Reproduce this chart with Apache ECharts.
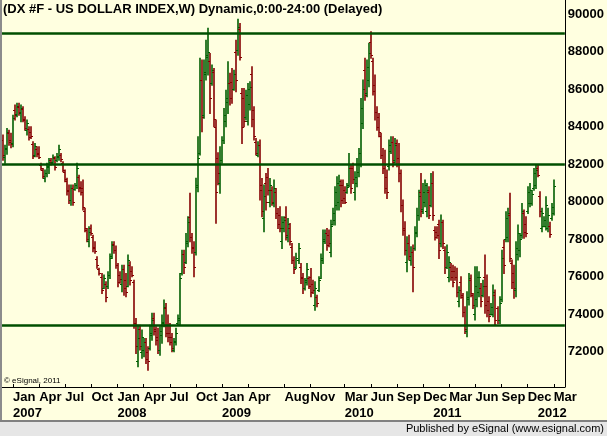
<!DOCTYPE html>
<html><head><meta charset="utf-8">
<script src="https://cdn.jsdelivr.net/npm/echarts@6/dist/echarts.min.js"></script>
<style>html,body{margin:0;padding:0;background:#FFFFE0;overflow:hidden}#c{width:607px;height:436px}</style>
</head><body><div id="c"></div><script>
// ---- data (weekly bars of DX #F, values as shown on the price scale) ----
const firstWeek = '2006-12-01';
const weekSlots = 280;
const weekOpen = [
83300,82400,82800,83650,83300,83100,84900,84650,85050,84750,
84950,84350,83800,83850,83700,83050,82500,82800,82600,81950,
81700,81250,81500,81850,82200,82100,82300,82200,82400,82500,
82050,81600,81100,80600,80100,80700,80650,80900,81300,80800,
80700,79500,78500,77900,78600,78100,77600,76950,76400,76000,
75400,75600,75500,76100,77100,77750,77400,76600,76100,75600,
76400,75800,75500,76600,76300,75700,73500,71500,73200,72000,
72100,72500,72000,72200,72900,73800,73200,72800,72100,72900,
73500,74300,73400,73000,72800,72100,72500,73500,73700,76200,
77200,76800,77800,79200,78100,77600,77300,80900,82600,86500,
84600,86800,87700,87500,86300,86900,84000,82300,81000,82200,
83300,84300,85300,86300,86400,86000,88000,88100,89200,85800,
85500,84500,84300,85200,86800,84900,83200,82500,83000,80900,
79100,81000,81300,80000,80600,79900,80500,79400,79300,77900,
78600,79200,78100,78600,77600,76900,76500,76900,76500,76000,
75400,75700,75900,76000,75600,74500,74900,75300,75900,76900,
77900,78300,78200,77300,78800,79000,79800,80000,80900,80900,
80600,80500,80900,81800,81800,80500,81000,81600,82000,84200,
87000,85800,86500,88500,87500,86200,84800,84500,83500,82500,
82000,81300,81900,82700,83200,82200,83100,82300,81500,79800,
78500,76800,77800,76900,77300,77500,78300,79300,80500,79600,
80000,79500,80500,79800,81000,78500,78400,78800,77800,78900,
77400,76500,76000,76500,76300,76300,76000,74700,75700,74900,
74100,73100,74800,75800,75000,74000,74800,75200,75400,75000,
76000,75500,74700,74000,74000,75000,74300,73700,74800,77600,
78000,78100,79300,76700,76200,75300,77200,77400,78200,79400,
78800,79500,79900,79900,80700,80900,81800,80300,78600,78700,
78700,78600,78700,79100,79400];
const weekHigh = [
83550,83010,83900,83810,83640,84610,85150,85240,85240,85150,
85060,84520,84350,83990,83990,83190,83100,82920,82920,82040,
81770,81680,82040,82300,82300,82480,82390,82570,83010,82570,
82120,81680,81240,80880,80880,80880,80970,82040,81410,81060,
81150,79640,78570,78660,78750,78210,77860,77060,76440,76170,
76080,75720,76260,77200,77860,77860,77630,76700,76260,76610,
76610,76170,77150,76790,76520,75810,73770,73410,73410,73150,
72700,72700,72260,73410,74040,74040,73320,73240,73320,73950,
74750,74570,73950,73500,72970,72700,73240,73950,76170,77410,
77410,78300,79190,80440,78300,77860,81240,83460,87640,87550,
87550,88610,89240,87900,87280,87100,84350,82600,82920,83460,
84970,85940,87460,86840,87100,87010,88610,89720,89500,86030,
86030,85940,86300,86390,87190,85060,83370,83190,83280,81230,
80880,81500,81770,81230,80790,81150,80700,79630,79720,79190,
79190,79720,79100,78830,77770,77060,77240,77770,76700,76170,
75900,76700,75990,76430,75810,75720,75010,75990,77200,78480,
78480,78570,78480,79010,79640,80790,81320,81410,81150,81150,
80790,80970,82570,81950,82040,81590,82300,82830,85500,86480,
87640,87550,88440,89060,87640,86750,85060,84700,83640,82830,
82740,81680,83280,83460,83460,83370,83280,83100,81680,80080,
78920,78120,78210,77590,77680,78660,79640,80610,81500,80970,
81150,80970,80790,81500,81590,78660,78660,79010,79280,79010,
77590,77680,77060,76700,76610,76520,76440,75460,75990,75100,
74390,75190,76170,76080,75100,76520,76520,76260,75630,75810,
77150,76080,74920,74570,75550,75280,74390,74920,77410,77950,
79460,79640,80440,76880,76610,77860,78750,78300,79900,79550,
79190,80790,80970,80610,81770,81950,81950,80520,79640,79190,
80260,79640,78900,79900,81150];
const weekLow = [
82210,82040,82520,83010,82870,82920,84350,84520,84610,84260,
84260,83810,83550,83280,83370,82300,82390,82390,82300,81680,
81240,81060,81320,81500,81950,82040,81680,82120,82210,82120,
81590,81060,80350,79900,79810,79810,80610,80700,80520,80350,
79550,78390,77860,77590,78210,77320,77240,76440,76080,75100,
75370,74660,75370,75900,76970,77240,76440,75460,75640,75190,
75010,74920,75460,75550,75990,73240,71900,71190,72080,71640,
71720,71370,71010,72080,72610,72880,72350,71900,71810,72440,
73320,72790,72520,72350,71990,71990,72350,73410,73410,76080,
76170,76700,77590,77860,77240,75990,77150,80520,82480,83720,
84440,86480,86750,84700,86210,83990,78840,80900,80440,82040,
83100,83990,84700,85150,85240,85940,85860,87810,87550,83100,
83990,84350,84080,84880,83990,83280,82480,82390,80080,79190,
78390,79550,80350,79720,79810,79720,79100,78570,78390,77500,
78390,77950,77860,77680,76700,76170,76430,76700,75630,75100,
75280,75550,75370,74920,75100,74210,74390,75200,75900,76700,
77770,77410,77590,77060,78750,78750,79550,79550,79720,79900,
79900,80440,80790,80440,80970,80080,80790,81320,81860,83900,
85410,85590,86120,87640,85680,84350,83810,83460,82300,81500,
80440,80170,81680,82570,81860,82040,81860,81060,79460,78210,
77150,76260,76880,76610,75190,77410,78120,79010,79190,79370,
79720,79190,79100,79720,79010,77950,78040,76970,77590,77500,
76170,76430,75720,75810,75460,75810,74920,74390,74840,73860,
72970,72790,74480,74920,74300,73680,74390,74920,74390,74920,
74040,73860,73590,73950,73860,73410,73500,73500,74660,76170,
77860,77860,76790,75370,74840,74920,76880,77060,78040,78040,
78120,79370,79730,79810,80610,80700,81320,79190,78390,78660,
78480,78390,78100,79010,79280];
const weekClose = [
82500,82850,83700,83200,83050,84450,84600,85100,84800,85000,
84400,83950,84200,83450,83500,82450,82950,82550,82400,81800,
81350,81550,81900,82100,82050,82350,81850,82450,82800,82250,
81700,81200,80550,80100,80700,80000,80900,81800,80700,80500,
79700,78600,78000,78400,78300,77500,77350,76600,76200,75300,
75900,74900,76100,77000,77700,77400,76600,75700,75850,76400,
75400,75200,76900,75800,76100,73500,72300,72700,72300,72800,
72500,71600,71500,73000,73700,73100,72600,72100,73100,73600,
74400,73000,72800,72500,72200,72550,73000,73800,75900,77200,
76500,77900,78900,78100,77500,76500,80800,82300,86500,84500,
86900,87800,88000,85500,87000,84400,80500,81500,82200,83300,
84600,85500,86300,85500,86000,86800,86500,89300,87700,84000,
84300,85700,86000,86100,84400,83500,82600,83000,80600,79500,
80300,80000,80600,80900,80000,80700,79400,78800,78600,78900,
79000,78200,78800,77900,76900,76400,77000,77500,75900,75400,
75800,76400,75500,75200,75300,75400,74600,75800,77000,78000,
78300,77700,77800,78700,79400,80500,81000,81100,80100,80200,
80000,80800,82000,80700,81200,81300,82000,82600,85000,86000,
85700,87200,87900,87800,85900,84800,84000,83700,82500,81800,
80700,80500,83000,83200,82100,83000,82000,81500,79800,78600,
77400,77800,77100,77300,76500,78400,79300,80300,79500,80500,
80900,80600,79300,81000,79300,78100,78200,77400,78900,77800,
76500,77300,76800,76000,75700,76000,75200,75300,75000,74100,
73200,74900,75900,75100,74500,75500,76000,76000,74700,75500,
74500,74200,73900,74400,75200,73700,73700,74600,77000,76600,
79100,79400,77000,75700,75400,77500,78300,78000,79500,78400,
78300,80500,80600,80400,81500,81700,81400,79500,79400,79000,
79800,79300,78250,79700,80845];
const levelLines = [89000, 82000, 73400];
const priceTicks = [72000, 74000, 76000, 78000, 80000, 82000, 84000, 86000, 88000, 90000];
const monthTickMonths = ['2007-01','2007-04','2007-07','2007-10','2008-01','2008-04','2008-07','2008-10',
  '2009-01','2009-04','2009-08','2009-11','2010-03','2010-06','2010-09','2010-12',
  '2011-03','2011-06','2011-09','2011-12','2012-03'];
const monthTickLabels = ['Jan','Apr','Jul','Oct','Jan','Apr','Jul','Oct','Jan','Apr','Aug','Nov',
  'Mar','Jun','Sep','Dec','Mar','Jun','Sep','Dec','Mar'];
const yearTickMonths = ['2007-01','2008-01','2009-01','2010-03','2011-01','2012-01'];
const yearTickLabels = ['2007','2008','2009','2010','2011','2012'];
const titleText = '(DX #F - US DOLLAR INDEX,W) Dynamic,0:00-24:00 (Delayed)';

// ---- build categories (week-ending dates) ----
const weeks = [];
const t0 = Date.parse(firstWeek + 'T00:00:00Z');
for (let i = 0; i < weekSlots; i++) weeks.push(new Date(t0 + i * 7 * 86400000).toISOString().slice(0, 10));
function firstIndexMap(months, labels) {
  const m = new Map();
  months.forEach((mo, k) => { const idx = weeks.findIndex(w => w.startsWith(mo)); if (idx >= 0) m.set(idx, labels[k]); });
  return m;
}
const monthIdx = firstIndexMap(monthTickMonths, monthTickLabels);
const yearIdx = firstIndexMap(yearTickMonths, yearTickLabels);
const ohlc = weekOpen.map((o, i) => [i, o, weekHigh[i], weekLow[i], weekClose[i]]);
const lastClose = weekClose[weekClose.length - 1];

const FONT = '"Liberation Sans", Arial, sans-serif';
const GREEN = '#005E00', RED = '#850000', LINECOL = '#004F00';

const chart = echarts.init(document.getElementById('c'), null, {renderer: 'canvas'});
chart.setOption({
  animation: false,
  backgroundColor: '#FFFFE0',
  title: {text: titleText, left: 3, top: 3, padding: 0,
    textStyle: {fontFamily: FONT, fontWeight: 'bold', fontSize: 13, color: '#000'}},
  grid: {left: 2, right: 41, top: 0, height: 387, containLabel: false},
  xAxis: [{
    type: 'category', data: weeks, boundaryGap: true,
    axisLine: {show: true, lineStyle: {color: '#000', width: 1}},
    axisTick: {show: true, inside: true, length: 3, alignWithLabel: true,
      interval: (i) => monthIdx.has(i), lineStyle: {color: '#000'}},
    axisLabel: {interval: (i) => monthIdx.has(i), formatter: (v, i) => monthIdx.get(i) || '',
      align: 'left', margin: 4, color: '#000', fontFamily: FONT, fontWeight: 'bold', fontSize: 13},
    splitLine: {show: false}
  }, {
    type: 'category', data: weeks, boundaryGap: true, position: 'bottom', offset: 16,
    axisLine: {show: false}, axisTick: {show: false},
    axisLabel: {interval: (i) => yearIdx.has(i), formatter: (v, i) => yearIdx.get(i) || '',
      align: 'left', margin: 4, color: '#000', fontFamily: FONT, fontWeight: 'bold', fontSize: 13},
    splitLine: {show: false}
  }],
  yAxis: {
    type: 'value', position: 'right', min: 70110, max: 90750,
    axisLine: {show: true, lineStyle: {color: '#000', width: 1}},
    axisTick: {show: false},
    splitLine: {show: false},
    axisLabel: {customValues: priceTicks, margin: 3, color: '#000', fontFamily: FONT,
      fontWeight: 'bold', fontSize: 13, formatter: v => String(v)}
  },
  series: [{
    type: 'custom', xAxisIndex: 0, yAxisIndex: 0, data: ohlc,
    encode: {x: 0, y: [1, 2, 3, 4]},
    renderItem: function (params, api) {
      const i = api.value(0);
      const o = api.value(1), h = api.value(2), l = api.value(3), c = api.value(4);
      const ph = api.coord([i, h]), pl = api.coord([i, l]);
      const po = api.coord([i, o]), pc = api.coord([i, c]);
      const x = Math.round(ph[0]);
      const col = c >= o ? GREEN : RED;
      const yo = Math.round(po[1]) + 0.5, yc = Math.round(pc[1]) + 0.5;
      return {type: 'group', children: [
        {type: 'line', shape: {x1: x, y1: ph[1] - 0.5, x2: x, y2: pl[1] + 0.5}, style: {stroke: col, lineWidth: 1.6}},
        {type: 'line', shape: {x1: x - 2, y1: yo, x2: x, y2: yo}, style: {stroke: col, lineWidth: 1}},
        {type: 'line', shape: {x1: x, y1: yc, x2: x + 2, y2: yc}, style: {stroke: col, lineWidth: 1}}
      ]};
    }
  }, {
    type: 'line', data: [], xAxisIndex: 0, yAxisIndex: 0,
    markLine: {
      symbol: ['none', 'none'], silent: true, animation: false,
      label: {show: false},
      lineStyle: {color: LINECOL, width: 2.5, type: 'solid'},
      data: levelLines.map(v => ({yAxis: v})).concat([{
        yAxis: lastClose,
        lineStyle: {opacity: 0},
        label: {show: true, position: 'end', distance: 1, formatter: String(lastClose),
          backgroundColor: '#0B5C0B', color: '#FFFFE0', fontFamily: FONT, fontWeight: 'bold',
          fontSize: 13, padding: [1, 2, 0, 2]}
      }])
    }
  }],
  graphic: [
    {type: 'rect', shape: {x: 0, y: 0, width: 2, height: 420}, style: {fill: '#8C8C8C'}, z: 10},
    {type: 'rect', shape: {x: 0, y: 420, width: 607, height: 2}, style: {fill: '#808080'}, z: 10},
    {type: 'rect', shape: {x: 0, y: 422, width: 607, height: 14}, style: {fill: '#E6E6E6'}, z: 10},
    {type: 'text', right: 3, top: 423, z: 11,
      style: {text: 'Published by eSignal (www.esignal.com)', font: '11px "Liberation Sans", Arial, sans-serif', fill: '#000'}},
    {type: 'text', left: 4, top: 377, z: 11,
      style: {text: '© eSignal, 2011', font: '8px "Liberation Sans", Arial, sans-serif', fill: '#000'}}
  ]
});
</script></body></html>
